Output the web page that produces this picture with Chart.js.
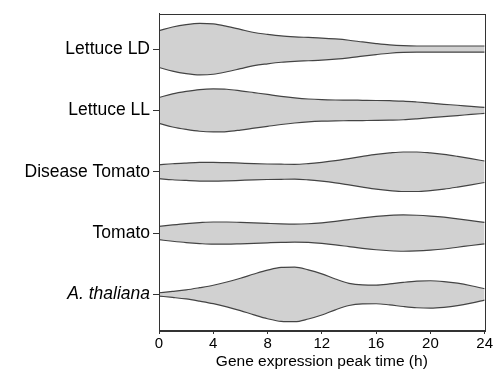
<!DOCTYPE html>
<html>
<head>
<meta charset="utf-8">
<script src="https://cdn.jsdelivr.net/npm/chart.js@4/dist/chart.umd.min.js"></script>
<style>
  html, body { margin: 0; padding: 0; background: #fff; }
</style>
</head>
<body>
<canvas id="chart" width="494" height="372"></canvas>
<script>
// rows, top to bottom
const categories = ["Lettuce LD", "Lettuce LL", "Disease Tomato", "Tomato", "A. thaliana"];
const hours = [0, 1, 2, 3, 4, 5, 6, 7, 8, 9, 10, 11, 12, 13, 14, 15, 16, 17, 18, 19, 20, 21, 22, 23, 24];
const xTickValues = [0, 4, 8, 12, 16, 20, 24];

// violin half-width at each hour, in % of the row spacing
const lettuceLD = [30, 36, 40, 42, 41, 37, 32, 27, 24, 21.5, 20, 19, 18, 16.5, 14.4, 11.6, 9, 6.8, 5.5, 5, 5, 5, 5, 5, 5];
const lettuceLL = [21, 27, 31, 34, 35, 34.5, 32, 29, 26, 23, 20.5, 18.6, 17.5, 17, 16.8, 16.5, 16.2, 15.8, 15.2, 13.7, 11.8, 10, 8.4, 6.5, 4.9];
const diseaseTomato = [11.3, 13, 14.2, 15.2, 15.4, 14.9, 14, 13.1, 12.6, 12.3, 12.1, 13.3, 15.4, 18.1, 21.5, 25, 28.3, 30.7, 32.2, 32.2, 30.7, 28.3, 25, 21.3, 17.5];
const tomato = [10.8, 13.3, 15.5, 17.1, 18.1, 18.1, 17.5, 16.7, 15.8, 15, 14.6, 15.2, 16.8, 19.1, 22, 24.9, 27.2, 28.8, 29.6, 29.1, 27.8, 25.9, 23.1, 20.2, 17.5];
const thaliana = [2.7, 4.9, 7.4, 11, 15, 20.2, 26.4, 33.3, 39.6, 44, 44.5, 40.1, 33.6, 25.1, 18.1, 15.5, 15.2, 17.1, 19.7, 21.7, 22.3, 21, 18.3, 14.2, 9.2];

const series = [lettuceLD, lettuceLL, diseaseTomato, tomato, thaliana];

const FONT = "'Liberation Sans', Arial, Helvetica, sans-serif";
const FILL = "#d1d1d1";
const EDGE = "#444";

// each violin = upper edge + lower edge filled to the previous dataset
const datasets = [];
series.forEach((vals, i) => {
    const center = categories.length - i;
    const common = {
        borderColor: EDGE, borderWidth: 1.2, pointRadius: 0,
        cubicInterpolationMode: "monotone", backgroundColor: FILL
    };
    datasets.push({ ...common, label: categories[i] + " up", fill: false,
        data: hours.map((h, k) => ({ x: h, y: center + vals[k] / 100 })) });
    datasets.push({ ...common, label: categories[i] + " down", fill: "-1",
        data: hours.map((h, k) => ({ x: h, y: center - vals[k] / 100 })) });
});

const frame = {
    id: "frame",
    afterDatasetsDraw(chart) {
        const a = chart.chartArea, ctx = chart.ctx;
        ctx.save();
        ctx.strokeStyle = "#333";
        ctx.lineWidth = 1;
        ctx.strokeRect(Math.round(a.left) + 0.5, Math.round(a.top) + 0.5,
            Math.round(a.right - a.left), Math.round(a.bottom - a.top));
        ctx.restore();
    }
};

new Chart(document.getElementById("chart"), {
    type: "line",
    data: { datasets },
    plugins: [frame],
    options: {
        responsive: false,
        animation: false,
        layout: { padding: { left: 0, right: 9, top: 11, bottom: 0 } },
        plugins: { legend: { display: false }, tooltip: { enabled: false } },
        scales: {
            x: {
                type: "linear", min: 0, max: 24,
                afterBuildTicks: s => { s.ticks = xTickValues.map(v => ({ value: v })); },
                afterFit: s => { s.height = 42; },
                grid: { drawOnChartArea: false, tickLength: 4, tickColor: "#333" },
                border: { color: "#333" },
                ticks: { color: "#000", padding: 1, maxRotation: 0, font: { family: FONT, size: 15 } },
                title: { display: true, text: "Gene expression peak time (h)", color: "#000",
                    padding: { top: 0, bottom: 1 }, font: { family: FONT, size: 15.5 } }
            },
            y: {
                type: "linear", min: 0.42, max: 5.58,
                afterBuildTicks: s => { s.ticks = categories.map((c, i) => ({ value: categories.length - i })); },
                afterFit: s => { s.width = 159; },
                grid: { drawOnChartArea: false, tickLength: 6, tickColor: "#333" },
                border: { color: "#333" },
                ticks: {
                    color: "#000", padding: 3,
                    callback: v => categories[categories.length - v],
                    font: ctx => ({ family: FONT, size: 17.5,
                        style: ctx.tick && ctx.tick.value === 1 ? "italic" : "normal" })
                }
            }
        }
    }
});
</script>
</body>
</html>
